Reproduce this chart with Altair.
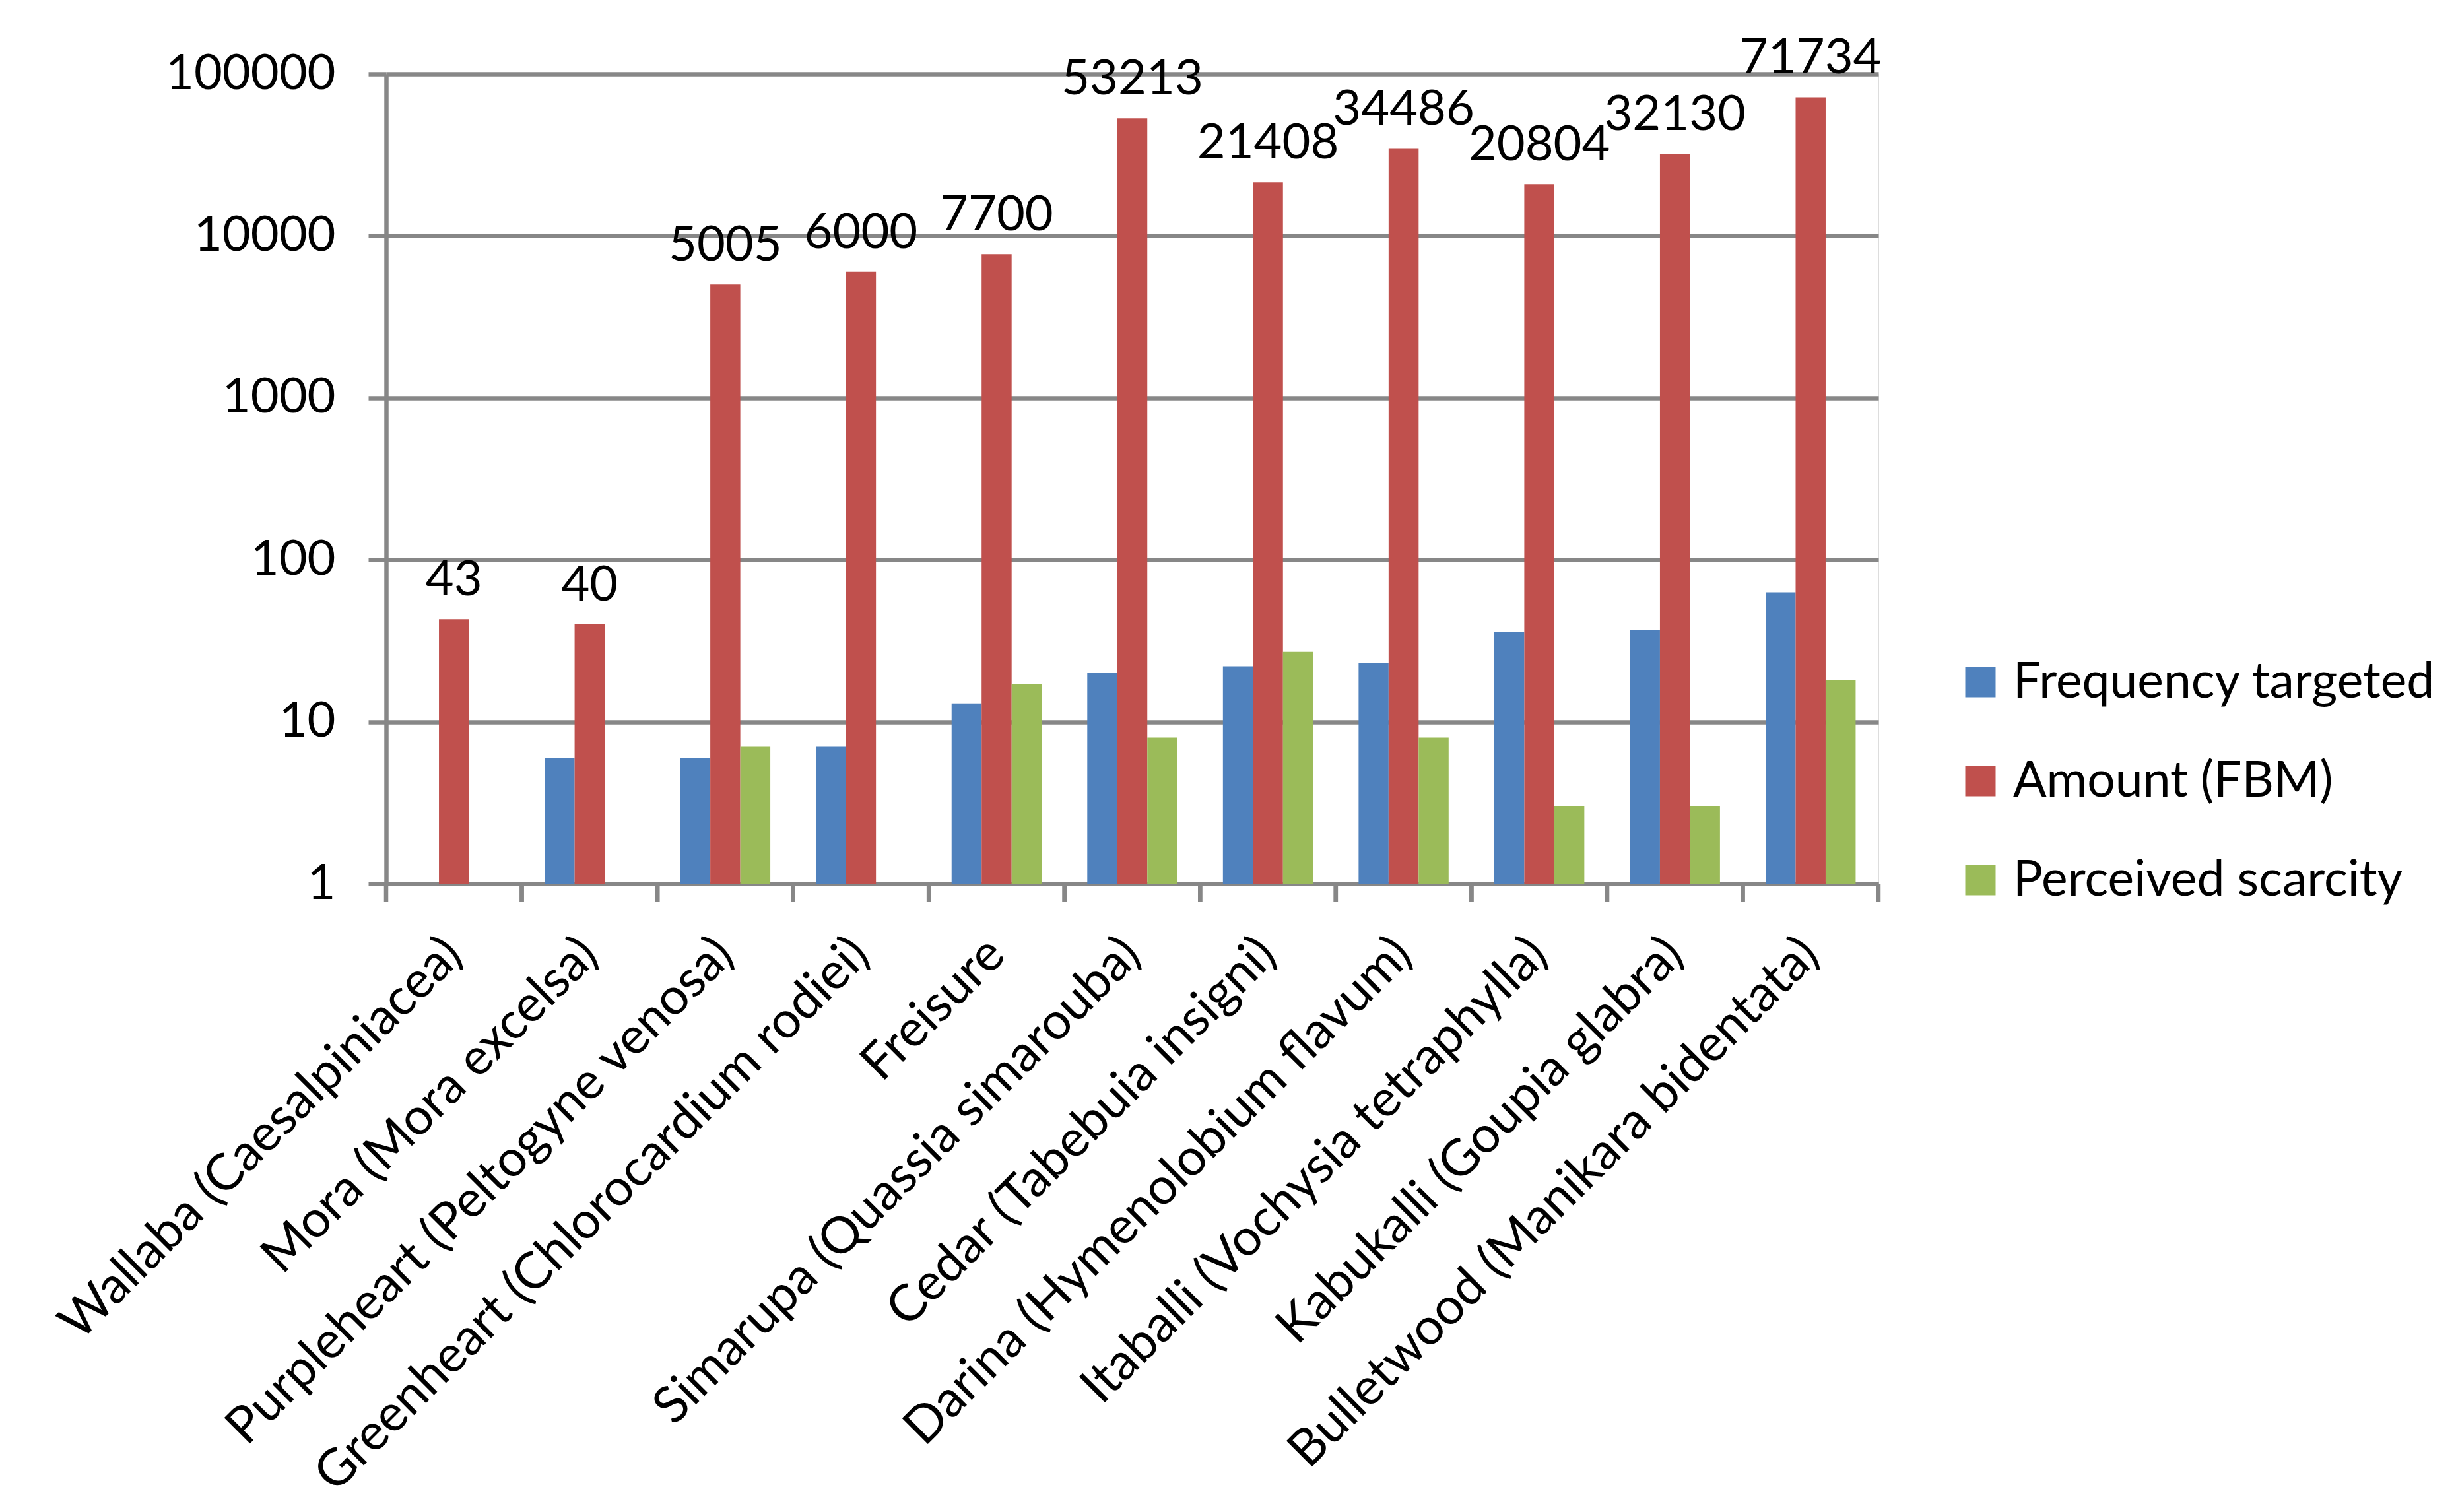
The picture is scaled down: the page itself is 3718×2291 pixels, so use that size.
import altair as alt
import pandas as pd

species = [
    "Wallaba (Caesalpiniacea)",
    "Mora (Mora excelsa)",
    "Purpleheart (Peltogyne venosa)",
    "Greenheart (Chlorocardium rodiei)",
    "Freisure",
    "Simarupa (Quassia simarouba)",
    "Cedar (Tabebuia insigni)",
    "Darina (Hymenolobium flavum)",
    "Itaballi (Vochysia tetraphylla)",
    "Kabukalli (Goupia glabra)",
    "Bulletwood (Manikara bidentata)",
]
series_names = ["Frequency targeted", "Amount (FBM)", "Perceived scarcity"]
frequency = [None, 6, 6, 7, 13, 20, 22, 23, 36, 37, 63]
amount = [43, 40, 5005, 6000, 7700, 53213, 21408, 34486, 20804, 32130, 71734]
scarcity = [None, None, 7, None, 17, 8, 27, 8, 3, 3, 18]
colors = ["#4F81BD", "#C0504D", "#9BBB59"]
y_ticks = [1, 10, 100, 1000, 10000, 100000]

rows = []
for s_name, vals in zip(series_names, [frequency, amount, scarcity]):
    for sp, v in zip(species, vals):
        if v is not None:
            rows.append({"species": sp, "series": s_name, "value": v})
df = pd.DataFrame(rows)
labels_df = df[df["series"] == "Amount (FBM)"]
bounds_df = pd.DataFrame({"species": species})

FONT = "Lato"
GRAY = "#878787"
LW = 6.5
W, H = 2261, 1227

x_scale = alt.Scale(domain=species, paddingInner=0, paddingOuter=0)
xo_scale = alt.Scale(domain=series_names, paddingInner=0, paddingOuter=0.76)

bars = alt.Chart(df).mark_bar().encode(
    x=alt.X("species:N", scale=x_scale, sort=species, title=None,
            axis=alt.Axis(labelAngle=-45, labelAlign="right", labelBaseline="middle",
                          labelFontSize=77, labelFont=FONT, labelColor="black",
                          ticks=False, domainColor=GRAY, domainWidth=LW,
                          labelPadding=95, labelLimit=3000, grid=False)),
    xOffset=alt.XOffset("series:N", scale=xo_scale, sort=series_names),
    y=alt.Y("value:Q", scale=alt.Scale(type="log", domain=[1, 100000]), title=None,
            axis=alt.Axis(values=y_ticks, format="d", labelFontSize=74, labelFont=FONT,
                          labelColor="black", tickSize=27, tickWidth=LW, tickColor=GRAY,
                          domainColor=GRAY, domainWidth=LW, gridColor=GRAY, gridWidth=LW,
                          labelPadding=50, labelLimit=3000, grid=True)),
    y2=alt.datum(1),
    color=alt.Color("series:N", scale=alt.Scale(domain=series_names, range=colors),
                    legend=alt.Legend(title=None, orient="none", legendX=2378, legendY=884,
                                      padding=0, symbolType="square", symbolSize=2116,
                                      symbolStrokeWidth=0, labelFontSize=75,
                                      labelFont=FONT, labelColor="black", labelLimit=3000,
                                      rowPadding=74, labelOffset=12)),
)

texts = alt.Chart(labels_df).mark_text(
    fontSize=74, font=FONT, color="black", baseline="alphabetic", dy=-36
).encode(
    x=alt.X("species:N", scale=x_scale, sort=species),
    xOffset=alt.XOffset("series:N", scale=xo_scale, sort=series_names),
    y=alt.Y("value:Q"),
    text=alt.Text("value:Q", format="d"),
)

ticks_left = alt.Chart(bounds_df).mark_rule(color=GRAY, strokeWidth=LW).encode(
    x=alt.X("species:N", scale=x_scale, sort=species, bandPosition=0),
    y=alt.value(H),
    y2=alt.value(H + 27),
)
ticks_right = alt.Chart(bounds_df).mark_rule(color=GRAY, strokeWidth=LW).encode(
    x=alt.X("species:N", scale=x_scale, sort=species, bandPosition=1),
    y=alt.value(H),
    y2=alt.value(H + 27),
)

chart = alt.layer(bars, texts, ticks_left, ticks_right).properties(
    width=W, height=H,
    autosize=alt.AutoSizeParams(type="none"),
    padding={"left": 577, "top": 104, "right": 864, "bottom": 940},
).configure_view(stroke=None).configure(background="white")

chart.save("out.html", embed_options={"renderer": "svg", "actions": False})
